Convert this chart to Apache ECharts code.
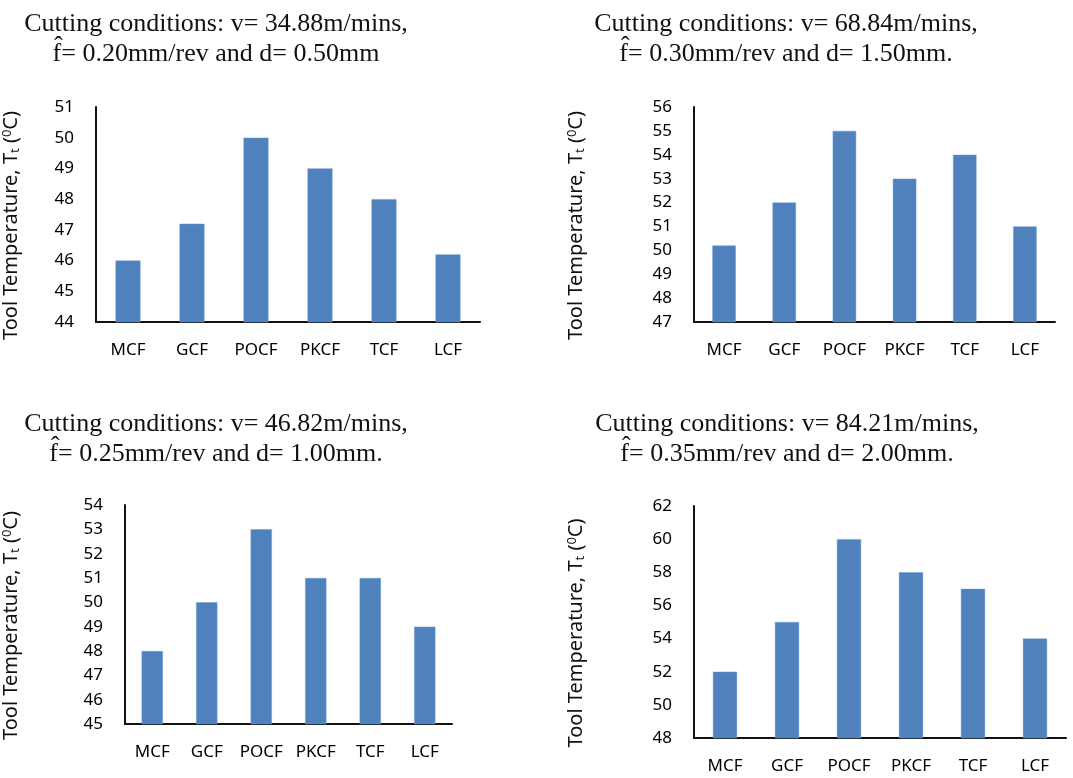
<!DOCTYPE html>
<html>
<head>
<meta charset="utf-8">
<script src="https://cdn.jsdelivr.net/npm/echarts@6/dist/echarts.min.js"></script>
<style>
html,body{margin:0;padding:0;background:#fff;}
#c{width:1073px;height:778px;}
</style>
</head>
<body>
<div id="c"></div>
<script>
const categories = ['MCF', 'GCF', 'POCF', 'PKCF', 'TCF', 'LCF'];
const values1 = [46, 47.2, 50, 49, 48, 46.2];
const values2 = [50.2, 52, 55, 53, 54, 51];
const values3 = [48, 50, 53, 51, 51, 49];
const values4 = [52, 55, 60, 58, 57, 54];
const titles = [
  'Cutting conditions: v= 34.88m/mins,\nf\u0302= 0.20mm/rev and d= 0.50mm',
  'Cutting conditions: v= 68.84m/mins,\nf\u0302= 0.30mm/rev and d= 1.50mm.',
  'Cutting conditions: v= 46.82m/mins,\nf\u0302= 0.25mm/rev and d= 1.00mm.',
  'Cutting conditions: v= 84.21m/mins,\nf\u0302= 0.35mm/rev and d= 2.00mm.'
];
const yRanges = [[44, 51, 1], [47, 56, 1], [45, 54, 1], [48, 62, 2]];
const allValues = [values1, values2, values3, values4];

const grids = [
  {left: 94, top: 107, width: 386, height: 215},
  {left: 694, top: 107, width: 361, height: 215},
  {left: 125, top: 505, width: 327, height: 219},
  {left: 694, top: 506, width: 372, height: 232}
];
const titlePos = [[211, 4], [781, 4], [211, 404], [782, 404]];
const nameGaps = [74, 107, 103, 107];

const chart = echarts.init(document.getElementById('c'));
const sansFont = '"Noto Sans", "Open Sans", sans-serif';
const option = {
  animation: false,
  backgroundColor: '#fff',
  title: titles.map((t, i) => ({
    text: t,
    left: titlePos[i][0],
    top: titlePos[i][1],
    textAlign: 'center',
    textStyle: {
      fontFamily: '"Liberation Serif", "Times New Roman", serif',
      fontSize: 26,
      fontWeight: 'normal',
      lineHeight: 30,
      color: '#111'
    }
  })),
  grid: grids.map(g => Object.assign({containLabel: false}, g)),
  xAxis: grids.map((g, i) => ({
    type: 'category',
    gridIndex: i,
    data: categories,
    axisLine: {lineStyle: {color: '#111', width: 2}},
    axisTick: {show: false},
    axisLabel: {color: '#000', fontFamily: sansFont, fontSize: 17, margin: 20, interval: 0}
  })),
  yAxis: grids.map((g, i) => ({
    type: 'value',
    gridIndex: i,
    min: yRanges[i][0],
    max: yRanges[i][1],
    interval: yRanges[i][2],
    axisLine: {show: true, lineStyle: {color: '#111', width: 2}},
    axisTick: {show: false},
    splitLine: {show: false},
    axisLabel: {color: '#000', fontFamily: sansFont, fontSize: 17, margin: 22},
    name: 'Tool Temperature, T{sub|t} ({sup|0}C)',
    nameLocation: 'middle',
    nameRotate: 90,
    nameGap: nameGaps[i],
    nameTextStyle: {
      color: '#111',
      fontFamily: sansFont,
      fontSize: 20,
      padding: [0, 22, 0, 0],
      rich: {
        sub: {fontSize: 13, fontFamily: sansFont, color: '#111', verticalAlign: 'bottom', padding: [7, 0, 0, 0]},
        sup: {fontSize: 13, fontFamily: sansFont, color: '#111', verticalAlign: 'top', padding: [0, 0, 8, 0]}
      }
    }
  })),
  series: allValues.map((v, i) => ({
    type: 'bar',
    xAxisIndex: i,
    yAxisIndex: i,
    data: v,
    barWidth: '39%',
    itemStyle: {color: '#4F81BD', borderColor: '#6f9ad0', borderWidth: 0.5}
  }))
};
chart.setOption(option);
</script>
</body>
</html>
